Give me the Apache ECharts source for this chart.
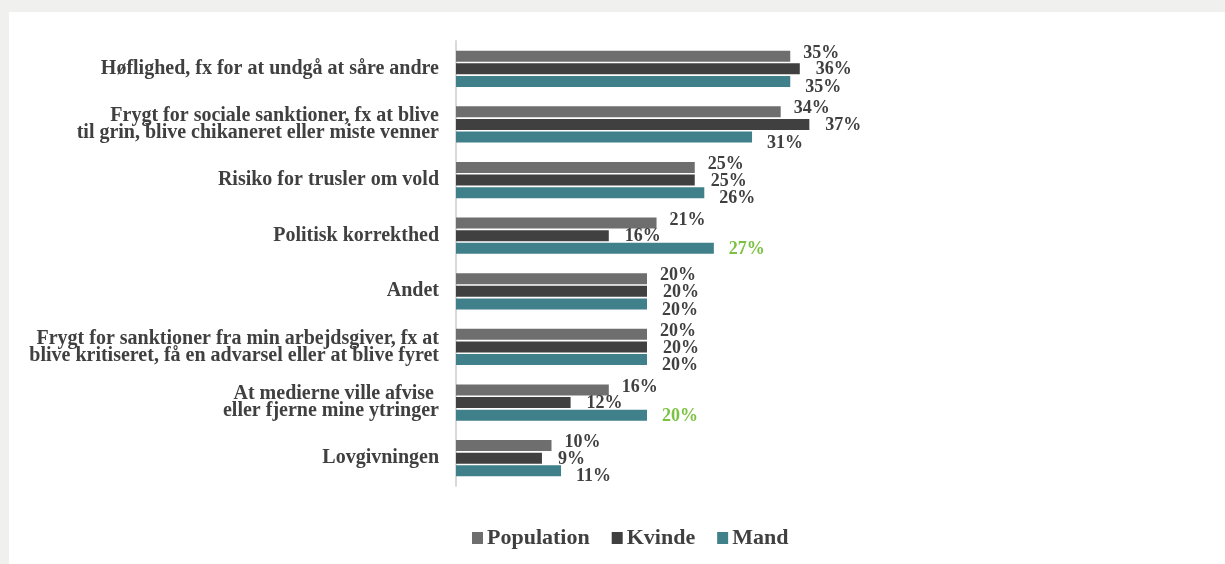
<!DOCTYPE html>
<html>
<head>
<meta charset="utf-8">
<script src="https://cdn.jsdelivr.net/npm/echarts@6/dist/echarts.min.js"></script>
<style>
  html, body { margin: 0; padding: 0; background: #f0f0ef; }
  #wrap { position: absolute; left: 0; top: 0; width: 1225px; height: 564px; background: #f0f0ef; }
  #chart { position: absolute; left: 9px; top: 12px; width: 1216px; height: 552px; background: #ffffff; }
</style>
</head>
<body>
<div id="wrap"><div id="chart"></div></div>
<script>
// Reasons for holding back opinions, share of respondents (%)
const categories = [
  'Høflighed, fx for at undgå at såre andre',
  'Frygt for sociale sanktioner, fx at blive\ntil grin, blive chikaneret eller miste venner',
  'Risiko for trusler om vold',
  'Politisk korrekthed',
  'Andet',
  'Frygt for sanktioner fra min arbejdsgiver, fx at\nblive kritiseret, få en advarsel eller at blive fyret',
  'At medierne ville afvise \neller fjerne mine ytringer',
  'Lovgivningen'
];
const seriesNames = ['Population', 'Kvinde', 'Mand'];
const population = [35, 34, 25, 21, 20, 20, 16, 10];
const kvinde     = [36, 37, 25, 16, 20, 20, 12, 9];
const mand       = [35, 31, 26, 27, 20, 20, 20, 11];

const colors = ['#6e6e6e', '#404040', '#40808a'];
const textColor = '#404040';
const highlightColor = '#7cc242';
const serif = '"Liberation Serif", "Times New Roman", serif';

// Mand labels turn green where men exceed the population by 4 points or more
function mandData() {
  return mand.map((v, i) => {
    const hi = v - population[i] >= 4;
    return {
      value: v,
      label: hi ? { color: highlightColor, offset: [0, 1] } : { offset: [0, 6] }
    };
  });
}

function labelFor(distance, offset) {
  return {
    show: true,
    position: 'right',
    distance: distance,
    offset: offset,
    formatter: '{c}%',
    color: textColor,
    fontFamily: serif,
    fontWeight: 'bold',
    fontSize: 18
  };
}

const chart = echarts.init(document.getElementById('chart'), null, { renderer: 'canvas' });
chart.setOption({
  animation: false,
  color: colors,
  grid: { left: 447, top: 29, width: 382, height: 445, containLabel: false },
  xAxis: {
    type: 'value', min: 0, max: 40, show: false
  },
  yAxis: {
    type: 'category',
    data: categories,
    inverse: true,
    axisLine: { show: true, lineStyle: { color: '#d9d9d9', width: 2 } },
    axisTick: { show: false },
    axisLabel: {
      margin: 17,
      color: textColor,
      fontFamily: serif,
      fontWeight: 'bold',
      fontSize: 20,
      lineHeight: 17,
      align: 'right'
    }
  },
  legend: {
    data: seriesNames,
    bottom: 15,
    left: 463,
    padding: 0,
    icon: 'rect',
    itemWidth: 11,
    itemHeight: 12,
    itemGap: 22,
    textStyle: {
      color: textColor,
      fontFamily: serif,
      fontWeight: 'bold',
      fontSize: 22,
      padding: [0, 0, 0, -1]
    }
  },
  series: [
    {
      name: seriesNames[0], type: 'bar', data: population,
      barWidth: 11, barGap: '15%', barCategoryGap: '35%',
      label: labelFor(13, [0, -3])
    },
    {
      name: seriesNames[1], type: 'bar', data: kvinde,
      barWidth: 11, barGap: '15%',
      label: labelFor(16, [0, 1])
    },
    {
      name: seriesNames[2], type: 'bar', data: mandData(),
      barWidth: 11, barGap: '15%',
      label: labelFor(15, [0, 6])
    }
  ]
});
</script>
</body>
</html>
